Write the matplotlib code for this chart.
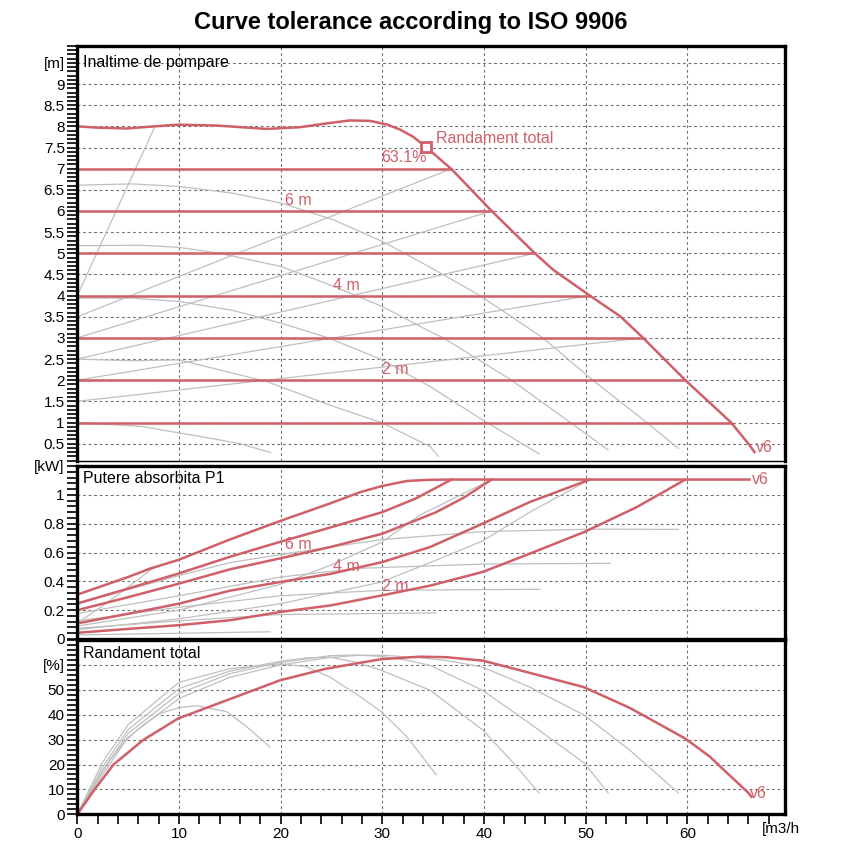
import matplotlib
matplotlib.use("Agg")
import matplotlib.pyplot as plt
from matplotlib.ticker import MultipleLocator
import numpy as np

plt.rcParams['font.family'] = ['Liberation Sans', 'DejaVu Sans']

RED = '#cf5f69'
GRAY = '#bfbfbf'
GRID = '#707070'

# ---------------- head [m] ----------------
q_v6 = [0, 2, 4.9, 7, 9.9, 13.7, 18.6, 21.9, 24.5, 26.8, 28.8, 30.5, 31.7, 33, 34.3,
        36.8, 40.75, 45.0, 46.8, 50.4, 53.4, 55.6, 59.8, 64.3, 66.1, 66.6]
h_v6 = [8.0, 7.97, 7.95, 7.99, 8.04, 8.02, 7.94, 7.98, 8.07, 8.14, 8.13, 8.04, 7.93, 7.76, 7.51,
        6.99, 6.0, 5.0, 4.61, 4.0, 3.51, 3.01, 2.0, 1.0, 0.47, 0.3]

# constant pressure lines
cp_h = [1, 2, 3, 4, 5, 6, 7]
cp_q_end = [64.3, 59.8, 55.6, 50.4, 45.0, 40.75, 36.8]

# proportional pressure lines (gray)
pp_h_start = [4.0, 3.5, 3.0, 2.5, 2.0, 1.5]
pp_h_end = [8.0, 7.0, 6.0, 5.0, 4.0, 3.0]
pp_q_end = [7.64, 36.8, 40.75, 45.0, 50.4, 55.6]

# lower speed pump curves (gray)
hc_q = [
    [0, 5.4, 10, 15.3, 20, 25.2, 30, 34.7, 39.6, 45.8, 50.7, 56, 59.1],
    [0, 6.2, 10, 14, 20, 25.2, 30, 34.7, 36, 42.7, 48.5, 52.2],
    [0, 5.4, 10, 15.3, 20, 24.7, 30, 34.7, 39.6, 45.4],
    [0, 5.4, 10, 18.6, 25.2, 30, 34.7, 35.5],
    [0, 6.2, 12.1, 16, 19],
]
hc_h = [
    [6.61, 6.64, 6.58, 6.42, 6.19, 5.79, 5.28, 4.67, 4.0, 3.0, 2.0, 1.0, 0.39],
    [5.18, 5.19, 5.14, 5.0, 4.69, 4.22, 3.74, 3.15, 3.0, 2.0, 1.0, 0.35],
    [3.94, 3.94, 3.86, 3.65, 3.35, 3.0, 2.48, 1.85, 1.1, 0.26],
    [2.5, 2.46, 2.48, 1.97, 1.38, 0.99, 0.43, 0.2],
    [1.0, 0.91, 0.67, 0.5, 0.29],
]

# ---------------- power P1 [kW] ----------------
p_v6_q = [0, 5, 7.15, 10, 15, 20, 24.85, 27.8, 29.9, 32.4, 34.5, 36.65, 66.1]
p_v6 = [0.308, 0.43, 0.488, 0.55, 0.69, 0.82, 0.94, 1.018, 1.06, 1.096, 1.104, 1.106, 1.106]

p_red_q = [
    [0, 5, 10, 15, 20, 25, 30, 33.3, 36.8],
    [0, 5, 10, 15, 20, 25, 30, 35.3, 38, 40.75],
    [0, 5, 10, 15, 20, 25, 30, 34.7, 39.86, 44.5, 50.4],
    [0, 5, 10, 15, 20, 25, 30, 34.7, 39.86, 44.5, 49.85, 55, 59.8],
]
p_red = [
    [0.246, 0.35, 0.455, 0.57, 0.675, 0.776, 0.88, 0.975, 1.106],
    [0.2, 0.29, 0.384, 0.483, 0.56, 0.64, 0.73, 0.88, 0.98, 1.106],
    [0.108, 0.175, 0.245, 0.335, 0.396, 0.453, 0.534, 0.638, 0.8, 0.95, 1.106],
    [0.043, 0.07, 0.096, 0.13, 0.188, 0.234, 0.303, 0.37, 0.465, 0.592, 0.742, 0.914, 1.106],
]

p_gray_q = [
    [0, 10, 18.95],
    [0, 10, 20, 35.3],
    [0, 10, 20, 30, 45.5],
    [0, 10, 20, 27.6, 40, 52.4],
    [0, 10, 15, 22.6, 30, 40, 50.6, 59.1],
    [0, 3.5, 7.6],
    [0, 10, 15, 20, 24.85, 29.9, 33.7, 36, 40.75],
    [0, 10, 20, 29.9, 34.7, 39.86, 44.5, 50.4],
]
p_gray = [
    [0.028, 0.04, 0.05],
    [0.074, 0.126, 0.17, 0.181],
    [0.126, 0.22, 0.3, 0.338, 0.345],
    [0.177, 0.3, 0.43, 0.49, 0.52, 0.525],
    [0.245, 0.44, 0.53, 0.614, 0.69, 0.745, 0.762, 0.76],
    [0.11, 0.28, 0.5],
    [0.09, 0.2, 0.29, 0.38, 0.51, 0.67, 0.86, 0.94, 1.106],
    [0.065, 0.14, 0.245, 0.395, 0.53, 0.68, 0.88, 1.106],
]

# ---------------- efficiency [%] ----------------
e_v6_q = [0, 1.58, 3.54, 6.5, 9.93, 14.7, 19.93, 24.5, 29.9, 33.7, 36.3, 39.9, 44.5, 49.8,
          54.3, 56, 59.8, 62.2, 63.2, 66.0, 66.3]
e_v6 = [0, 9.3, 19.9, 29.9, 38.5, 45.8, 53.8, 58.5, 62.3, 63.3, 63.1, 61.7, 56.8, 51.1,
        42.8, 39.0, 30.4, 23.2, 19.3, 8.6, 7.0]

e_gray_q = [
    [0, 1.58, 3.2, 4.85, 6.5, 8.13, 10, 11.74, 14.7, 16.65, 18.95],
    [0, 2.5, 5, 10, 15, 20, 22.5, 24.85, 28.1, 29.9, 32.4, 35.3],
    [0, 2.5, 5, 10, 15, 20, 22.5, 24.85, 27.5, 29.9, 34.7, 39.86, 42.9, 45.4],
    [0, 2.5, 5, 10, 15, 20, 24.85, 27.5, 29.9, 32.5, 34.7, 39.86, 44.5, 49.85, 52.2],
    [0, 2.5, 5, 10, 15, 20, 24.85, 27.5, 29.9, 33, 36.3, 39.86, 44.5, 49.85, 54.3, 59.1],
]
e_gray = [
    [0, 11.3, 21.9, 30, 36, 40.5, 42.8, 43.6, 41.2, 35.2, 27],
    [0, 21, 36, 53, 58.5, 60.4, 59.3, 55.1, 46.5, 41.2, 31.2, 15.9],
    [0, 19, 34, 50.5, 57.5, 61.5, 62.8, 63.1, 61.0, 57.8, 49.8, 33.9, 20.6, 8.6],
    [0, 17.5, 32.5, 48.5, 56.5, 61, 63.7, 64.0, 63.4, 61.8, 59.8, 49.8, 36.5, 20.6, 8.6],
    [0, 16, 31, 46.5, 55, 60, 63, 63.8, 63.9, 63.1, 61.8, 59.1, 51.1, 39.8, 25.9, 8.6],
]

head_ticks = np.arange(0.5, 9.51, 0.5)
head_labels = ['%g' % t for t in head_ticks[:-1]] + ['[m]']
pow_ticks = [0, 0.2, 0.4, 0.6, 0.8, 1.0, 1.2]
pow_labels = ['0', '0.2', '0.4', '0.6', '0.8', '1', '[kW]']
eff_ticks = [0, 10, 20, 30, 40, 50, 60]
eff_labels = ['0', '10', '20', '30', '40', '50', '[%]']
q_ticks = [0, 10, 20, 30, 40, 50, 60]

# ---------------- figure ----------------
fig = plt.figure(figsize=(8.6, 8.6), dpi=100)
L, W = 77.3 / 860, (785 - 77.3) / 860


def box(top, bottom):
    return [L, 1 - bottom / 860, W, (bottom - top) / 860]


ax1 = fig.add_axes(box(46, 461))
ax2 = fig.add_axes(box(466, 639))
ax3 = fig.add_axes(box(640, 814.3))

for ax in (ax1, ax2, ax3):
    ax.set_xlim(0, 69.6)
    ax.set_xticks(q_ticks)
    ax.xaxis.set_minor_locator(MultipleLocator(2))
    ax.set_axisbelow(True)
    ax.grid(True, which='major', color=GRID, lw=0.8, ls=(0, (2.5, 2.5)))
    for s in ax.spines.values():
        s.set_linewidth(2.4)
    ax.tick_params(which='both', direction='out', length=7, width=1.2,
                   labelsize=11, pad=2, top=False, right=False)

for ax in (ax1, ax2):
    ax.tick_params(axis='x', which='both', bottom=False, labelbottom=False)
ax1.spines['bottom'].set_linewidth(1.0)

# top panel
ax1.set_ylim(0.09, 9.9)
ax1.set_yticks(head_ticks)
ax1.set_yticklabels(head_labels)
ax1.yaxis.set_minor_locator(MultipleLocator(0.1))

for q, h in zip(hc_q, hc_h):
    ax1.plot(q, h, color=GRAY, lw=0.9)
for h0, h1, q1 in zip(pp_h_start, pp_h_end, pp_q_end):
    ax1.plot([0, q1], [h0, h1], color=GRAY, lw=0.9)
for h, q1 in zip(cp_h, cp_q_end):
    ax1.plot([0, q1], [h, h], color=RED, lw=1.8)
ax1.plot(q_v6, h_v6, color=RED, lw=1.8)
ax1.plot([34.3], [7.51], marker='s', ms=7, mfc='white', mec=RED, mew=2)

ax1.text(0.6, 9.5, 'Inaltime de pompare', fontsize=11.5, va='center', ha='left')
ax1.text(35.3, 7.72, 'Randament total', color=RED, fontsize=11.5, va='center', ha='left')
ax1.text(32.1, 7.27, '63.1%', color=RED, fontsize=11.5, va='center', ha='center')
for txt, q, h in [('6 m', 21.7, 6.25), ('4 m', 26.5, 4.24), ('2 m', 31.3, 2.25)]:
    ax1.text(q, h, txt, color=RED, fontsize=11.5, va='center', ha='center')
ax1.text(66.7, 0.4, 'v6', color=RED, fontsize=11.5, va='center', ha='left')

# middle panel
ax2.set_ylim(0, 1.2)
ax2.set_yticks(pow_ticks)
ax2.set_yticklabels(pow_labels)
ax2.yaxis.set_minor_locator(MultipleLocator(0.04))
for q, p in zip(p_gray_q, p_gray):
    ax2.plot(q, p, color=GRAY, lw=0.9)
for q, p in zip(p_red_q, p_red):
    ax2.plot(q, p, color=RED, lw=1.8)
ax2.plot(p_v6_q, p_v6, color=RED, lw=1.8)
ax2.text(0.6, 1.116, 'Putere absorbita P1', fontsize=11.5, va='center', ha='left')
for txt, q, p in [('6 m', 21.7, 0.656), ('4 m', 26.5, 0.505), ('2 m', 31.3, 0.367)]:
    ax2.text(q, p, txt, color=RED, fontsize=11.5, va='center', ha='center')
ax2.text(66.3, 1.106, 'v6', color=RED, fontsize=11.5, va='center', ha='left')

# bottom panel
ax3.set_ylim(0, 70)
ax3.set_yticks(eff_ticks)
ax3.set_yticklabels(eff_labels)
ax3.yaxis.set_minor_locator(MultipleLocator(2))
ax3.set_xticklabels([str(t) for t in q_ticks])
for q, e in zip(e_gray_q, e_gray):
    ax3.plot(q, e, color=GRAY, lw=0.9)
ax3.plot(e_v6_q, e_v6, color=RED, lw=1.8)
ax3.text(0.6, 64.4, 'Randament total', fontsize=11.5, va='center', ha='left')
ax3.text(66.2, 8.2, 'v6', color=RED, fontsize=11.5, va='center', ha='left')

fig.text(762 / 860, 1 - 829 / 860, '[m3/h', fontsize=11, va='center', ha='left')
fig.text(411 / 860, 1 - 22 / 860, 'Curve tolerance according to ISO 9906',
         fontsize=17, fontweight='bold', ha='center', va='center')

fig.savefig('out.png', dpi=100)
